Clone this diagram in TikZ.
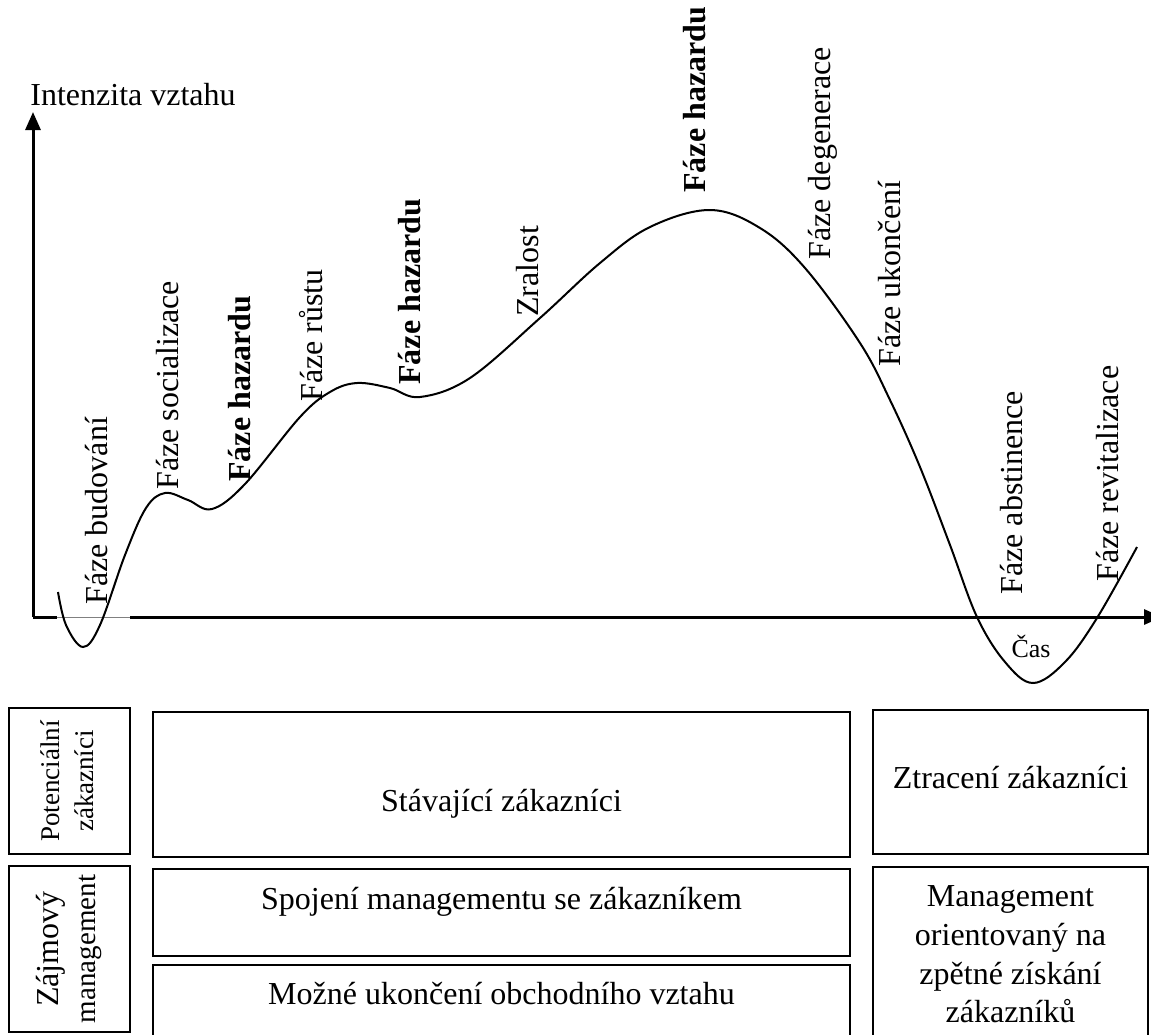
\documentclass[tikz,border=0pt]{standalone}
\usepackage{fontspec}
\setmainfont{Liberation Serif}
\usepackage{graphicx}
\usepackage{tikz}
\usetikzlibrary{arrows.meta, positioning, calc}

\begin{document}
\begin{tikzpicture}[x=0.5pt, y=-0.5pt,
  >={Triangle[length=9pt, width=7.5pt]},
  font=\fontsize{16}{19.3}\selectfont,
  axis/.style={line width=1.5pt},
  phase/.style={rotate=90, anchor=base west, inner sep=0pt},
  hazard/.style={phase, font=\fontsize{16}{19.3}\selectfont\bfseries},
  box/.style={draw, line width=1.1pt, inner sep=0pt}]
  \useasboundingbox (0,0) rectangle (1151,1034);

  \coordinate (O) at (33,617);
  \coordinate (ytip) at (33,112);
  \coordinate (xtip) at (1162,617);
  \coordinate (gapL) at (57,617);
  \coordinate (gapR) at (130,617);
  \draw[axis, ->] (O) -- (ytip);
  \draw[axis] (O) -- (gapL);
  \draw[gray, line width=0.5pt] (gapL) -- (gapR);
  \draw[axis, ->] (gapR) -- (xtip);
  \node[anchor=base west, inner sep=0pt] (ylabel) at (30,105) {Intenzita vztahu};
  \node[anchor=base, inner sep=0pt, font=\fontsize{13}{15}\selectfont] (xlabel) at (1031,657) {Čas};

  \draw[line width=1pt] plot[smooth, tension=0.6] coordinates {
    (58,592) (66,625) (83,647) (100,625) (125,555) (146,508)
    (165,493) (188,500) (212,509) (245,484) (300,417) (330,392)
    (357,383) (390,388) (420,397) (470,378) (540,318) (600,263) (650,227)
    (710,210) (760,228) (805,268) (860,343) (890,400) (920,467)
    (950,545) (977,617) (1005,662) (1033,683) (1065,662) (1097,618)
    (1137,547)};

  \node[phase] (budovani) at (107,605) {Fáze budování};
  \node[phase] (socializace) at (178,490) {Fáze socializace};
  \node[hazard] (hazard1) at (250,482) {Fáze hazardu};
  \node[phase] (rust) at (322,402) {Fáze růstu};
  \node[hazard] (hazard2) at (420,385) {Fáze hazardu};
  \node[phase] (zralost) at (538,317) {Zralost};
  \node[hazard] (hazard3) at (705,193) {Fáze hazardu};
  \node[phase] (degenerace) at (830,260) {Fáze degenerace};
  \node[phase] (ukonceni) at (900,367) {Fáze ukončení};
  \node[phase] (abstinence) at (1022,595) {Fáze abstinence};
  \node[phase] (revitalizace) at (1118,582) {Fáze revitalizace};

  \node[box, minimum width=60.5pt, minimum height=73pt] (potencialni) at (69.5,781)
    {\rotatebox{90}{\fontsize{13.5}{17}\selectfont\begin{tabular}{@{}c@{}}Potenciální\\ zákazníci\end{tabular}}};
  \node[box, minimum width=60.5pt, minimum height=83pt] (zajmovy) at (69.5,949)
    {\rotatebox{90}{\fontsize{16}{18.5}\selectfont\begin{tabular}{@{}c@{}}Zájmový\\ {\fontsize{14.5}{18.5}\selectfont management}\end{tabular}}};

  \node[box, anchor=north, minimum width=348.5pt, text height=49.5pt, text depth=23pt]
    (stavajici) at (501.5,711) {Stávající zákazníci};
  \node[box, anchor=north, minimum width=348.5pt, text height=20pt, text depth=23.5pt]
    (spojeni) at (501.5,868) {Spojení managementu se zákazníkem};
  \node[box, anchor=north, minimum width=348.5pt, text height=19.5pt, text depth=19.5pt]
    (mozne) at (501.5,964) {Možné ukončení obchodního vztahu};

  \node[box, anchor=north, minimum width=137.5pt, text height=39pt, text depth=33pt]
    (ztraceni) at (1010.5,709) {Ztracení zákazníci};
  \node[box, align=center, minimum width=137.5pt, minimum height=87.5pt]
    (zpetne) at (1010.5,954.5) {Management\\ orientovaný na\\ zpětné získání\\ zákazníků};
\end{tikzpicture}
\end{document}
